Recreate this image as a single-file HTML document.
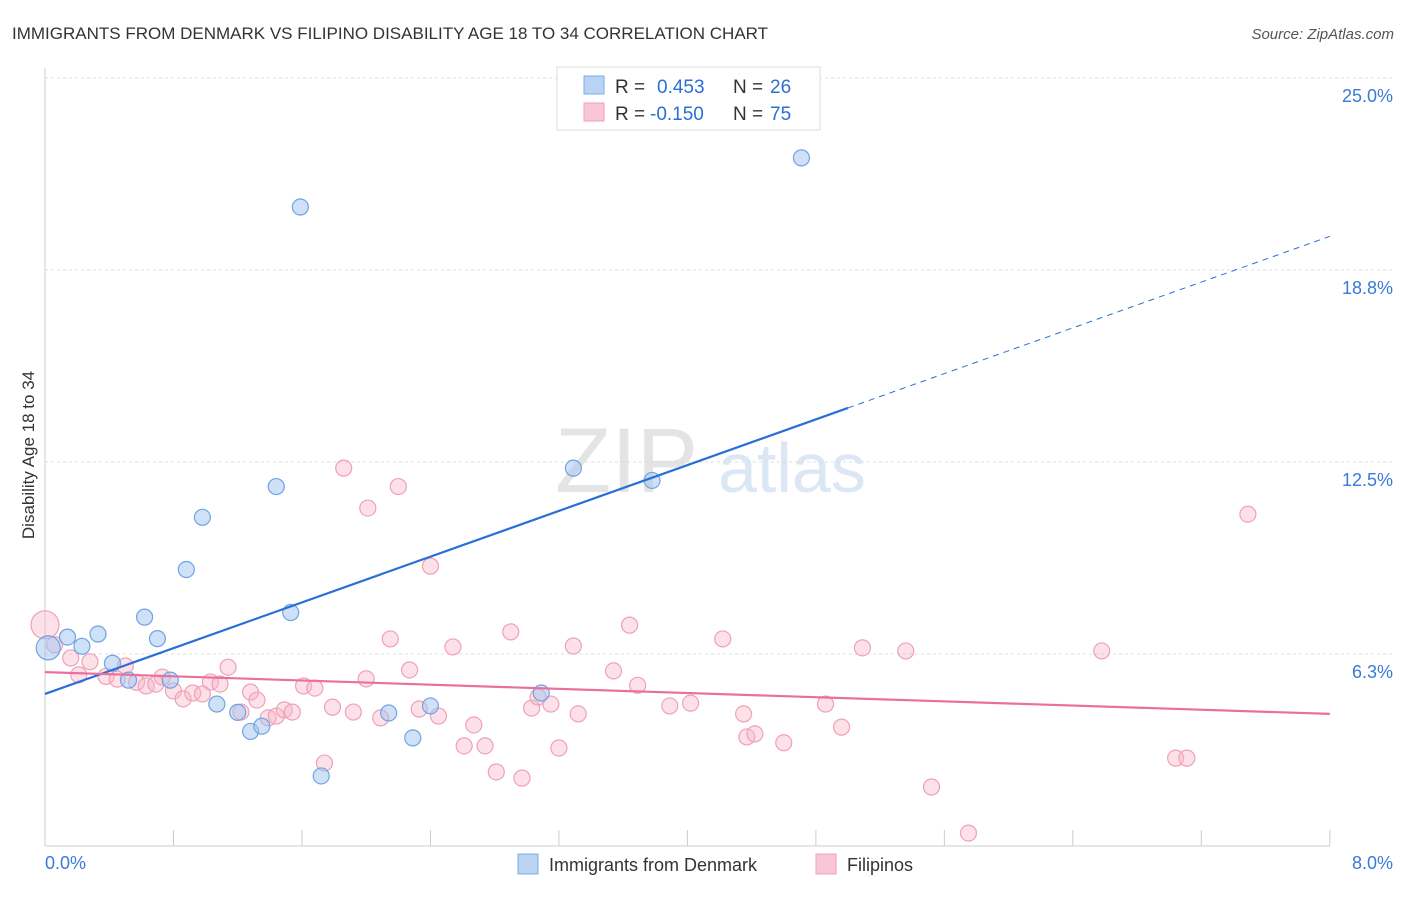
<!DOCTYPE html>
<html><head><meta charset="utf-8"><style>
body{margin:0;background:#fff;font-family:"Liberation Sans",sans-serif}
svg text{font-family:"Liberation Sans",sans-serif}
</style></head><body>
<svg id="c" width="1406" height="892">
<text x="12" y="39" font-size="17" fill="#333">IMMIGRANTS FROM DENMARK VS FILIPINO DISABILITY AGE 18 TO 34 CORRELATION CHART</text>
<text x="1394" y="39" font-size="15" fill="#555" text-anchor="end" font-style="italic">Source: ZipAtlas.com</text>
<text x="555" y="492" font-size="92" fill="#e4e4e4" font-family="Liberation Serif">ZIP</text>
<text x="718" y="492" font-size="70" fill="#dbe7f5">atlas</text>
<text transform="translate(34,455) rotate(-90)" font-size="17" fill="#333" text-anchor="middle">Disability Age 18 to 34</text>
<g id="grid"></g><g id="marks"></g>
<g>
<rect x="557" y="67" width="263" height="63" fill="#fff" stroke="#ddd"/>
<rect x="584" y="76" width="20" height="18" fill="#b9d3f5" stroke="#7aaee8"/>
<rect x="584" y="103" width="20" height="18" fill="#f8c6d6" stroke="#f0a0b8"/>
<text x="615" y="93" font-size="19" fill="#333">R =</text><text x="657" y="93" font-size="19" fill="#2a6fd6">0.453</text>
<text x="733" y="93" font-size="19" fill="#333">N =</text><text x="770" y="93" font-size="19" fill="#2a6fd6">26</text>
<text x="615" y="120" font-size="19" fill="#333">R =</text><text x="650" y="120" font-size="19" fill="#2a6fd6">-0.150</text>
<text x="733" y="120" font-size="19" fill="#333">N =</text><text x="770" y="120" font-size="19" fill="#2a6fd6">75</text>
</g>
<g>
<rect x="518" y="854" width="20" height="20" fill="#b9d3f5" stroke="#7aaee8"/>
<text x="549" y="871" font-size="18" fill="#333">Immigrants from Denmark</text>
<rect x="816" y="854" width="20" height="20" fill="#f8c6d6" stroke="#f0a0b8"/>
<text x="847" y="871" font-size="18" fill="#333">Filipinos</text>
</g>
</svg>
<script>
const xTicks=[0,1,2,3,4,5,6,7,8];
const yTicks=[6.25,12.5,18.75,25];
const yTickLabels=["6.3%","12.5%","18.8%","25.0%"];
const blueX=[0.02,0.14,0.23,0.33,0.42,0.52,0.62,0.70,0.78,0.88,0.98,1.07,1.20,1.28,1.35,1.44,1.53,1.59,1.72,2.14,2.29,2.40,3.09,3.29,3.78,4.71];
const blueY=[6.45,6.8,6.5,6.9,5.95,5.4,7.45,6.75,5.4,9.0,10.7,4.62,4.35,3.73,3.9,11.7,7.6,20.8,2.28,4.33,3.52,4.56,4.98,12.3,11.9,22.4];
const pinkX=[0.0,0.06,0.16,0.21,0.28,0.38,0.45,0.50,0.57,0.63,0.69,0.73,0.80,0.86,0.92,0.98,1.03,1.09,1.14,1.22,1.28,1.32,1.39,1.44,1.49,1.54,1.61,1.68,1.74,1.79,1.86,1.92,2.00,2.01,2.09,2.15,2.20,2.27,2.33,2.40,2.45,2.54,2.61,2.67,2.74,2.81,2.90,2.97,3.03,3.07,3.15,3.20,3.29,3.32,3.54,3.64,3.69,3.89,4.02,4.22,4.35,4.37,4.42,4.60,4.86,4.96,5.09,5.36,5.52,5.75,6.58,7.04,7.11,7.49];
const pinkY=[7.2,6.55,6.12,5.57,6.0,5.52,5.43,5.86,5.33,5.21,5.27,5.5,5.05,4.79,4.98,4.95,5.34,5.27,5.82,4.36,5.01,4.75,4.17,4.23,4.43,4.36,5.21,5.14,2.7,4.52,12.3,4.36,5.44,11.0,4.17,6.74,11.7,5.73,4.46,9.11,4.23,6.48,3.26,3.94,3.26,2.41,6.97,2.21,4.49,4.85,4.62,3.19,6.51,4.30,5.70,7.19,5.23,4.56,4.65,6.74,4.30,3.55,3.65,3.36,4.62,3.87,6.45,6.35,1.92,0.42,6.35,2.86,2.86,10.8];
const blueIntercept=4.95, blueSlope=1.862;
const pinkIntercept=5.66, pinkSlope=-0.17;
const X=v=>45+v*160.6, Y=v=>846-v*30.72;
const NS="http://www.w3.org/2000/svg";
function mk(p,t,a){const e=document.createElementNS(NS,t);for(const k in a)e.setAttribute(k,a[k]);p.appendChild(e);return e;}
const g=document.getElementById('grid'),m=document.getElementById('marks');
mk(g,'line',{x1:45,y1:846,x2:1330,y2:846,stroke:'#ccc'});
mk(g,'line',{x1:45,y1:68,x2:45,y2:846,stroke:'#ccc'});
for(let i=0;i<=10;i++){mk(g,'line',{x1:X(i*0.8),x2:X(i*0.8),y1:830,y2:846,stroke:'#ccc'});}
yTicks.forEach((v,i)=>{
 const l=mk(g,'line',{x1:45,x2:1393,y1:Y(v),y2:Y(v),stroke:'#ddd','stroke-dasharray':'3,3'});
 
 
 const t=mk(g,'text',{x:1393,y:Y(v)+24,'font-size':18,fill:'#3a7ad9','text-anchor':'end'});t.textContent=yTickLabels[i];
 
 
});
let t1=mk(g,'text',{x:45,y:869,'font-size':18,fill:'#3a7ad9'});t1.textContent='0.0%';


let t2=mk(g,'text',{x:1393,y:869,'font-size':18,fill:'#3a7ad9','text-anchor':'end'});t2.textContent='8.0%';


pinkX.forEach((x,i)=>{const c=mk(m,'circle',{cx:X(x),cy:Y(pinkY[i]),r:i==0?14:8,fill:'rgba(248,180,200,0.4)',stroke:'#f0a0b8','stroke-width':1.2});
 
 });
blueX.forEach((x,i)=>{const c=mk(m,'circle',{cx:X(x),cy:Y(blueY[i]),r:i==0?12:8,fill:'rgba(160,196,240,0.5)',stroke:'#6fa3e3','stroke-width':1.2});
 
 });
const by=x=>blueIntercept+blueSlope*x, py=x=>pinkIntercept+pinkSlope*x;
let l1=mk(m,'line',{x1:X(0),y1:Y(by(0)),x2:X(5.0),y2:Y(by(5.0)),stroke:'#2a6fd6','stroke-width':2.2});


let l2=mk(m,'line',{x1:X(5.0),y1:Y(by(5.0)),x2:X(8),y2:Y(by(8)),stroke:'#2a6fd6','stroke-width':1,'stroke-dasharray':'6,5'});


let l3=mk(m,'line',{x1:X(0),y1:Y(py(0)),x2:X(8),y2:Y(py(8)),stroke:'#e8709a','stroke-width':2.2});


</script>
</body></html>
